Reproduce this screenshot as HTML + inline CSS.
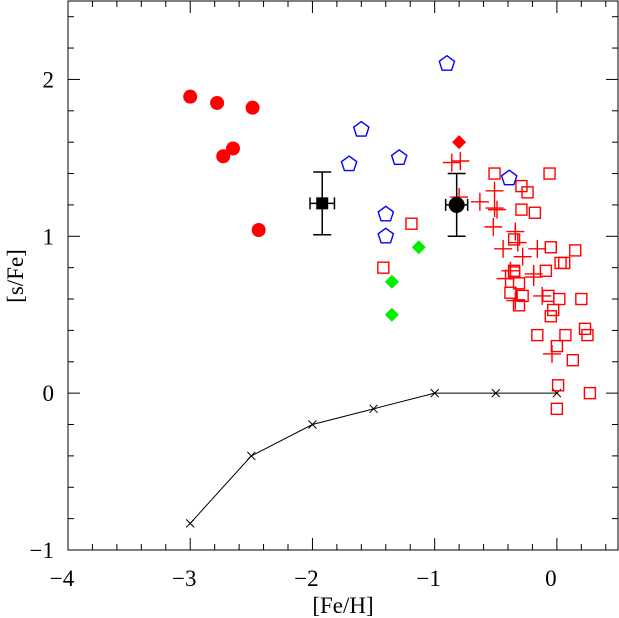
<!DOCTYPE html>
<html><head><meta charset="utf-8"><style>
body{margin:0;background:#fff}
svg{display:block}
text{font-family:"Liberation Serif",serif;font-size:23px;fill:#000}
</style></head><body>
<svg id="chart" width="619" height="618" viewBox="0 0 619 618" xmlns="http://www.w3.org/2000/svg"></svg>
<script>
const xTicks=[-4,-3,-2,-1,0];
const yTicks=[-1,0,1,2];
const redCircles=[[-3.0,1.89],[-2.78,1.85],[-2.73,1.51],[-2.65,1.56],[-2.49,1.82],[-2.44,1.04]];
const blueDiamondsX=[-0.9,-1.6,-1.7,-1.29,-1.4,-1.4,-0.39];
const bluePentY=[2.1,1.68,1.46,1.5,1.14,1.0,1.37];
const greenDiamonds=[[-1.13,0.93],[-1.35,0.71],[-1.35,0.5]];
const redDiamond=[[-0.8,1.6]];
const redSquares=[[-1.42,0.8],[-1.19,1.08],[-0.51,1.40],[-0.06,1.40],[-0.29,1.32],[-0.24,1.28],[-0.29,1.17],[-0.18,1.15],[-0.35,0.98],[-0.05,0.93],[0.15,0.91],[-0.35,0.78],[0.03,0.83],[0.06,0.83],[-0.09,0.78],[-0.35,0.77],[-0.31,0.70],[-0.38,0.64],[-0.28,0.62],[-0.07,0.62],[0.02,0.60],[0.20,0.60],[-0.31,0.56],[-0.03,0.53],[-0.05,0.49],[-0.16,0.37],[0.07,0.37],[0.23,0.41],[0.25,0.37],[0.00,0.30],[0.13,0.21],[0.01,0.05],[0.27,0.0],[0.00,-0.10]];
const redPlus=[[-0.86,1.47],[-0.79,1.48],[-0.8,1.25],[-0.51,1.29],[-0.63,1.22],[-0.51,1.18],[-0.49,1.17],[-0.52,1.06],[-0.34,1.03],[-0.32,0.96],[-0.44,0.92],[-0.16,0.92],[-0.28,0.87],[-0.38,0.78],[-0.19,0.76],[-0.42,0.73],[-0.19,0.74],[-0.12,0.62],[-0.34,0.59],[-0.04,0.25]];
const blackSquare=[[-1.92,1.21,0.1,0.2]];
const blackCircle=[[-0.82,1.2,0.09,0.2]];
const lineX=[-3,-2.5,-2,-1.5,-1,-0.5,0];
const lineY=[-0.83,-0.4,-0.2,-0.1,0,0,0];

const L=68,R=618,T=1,B=550,x0=-4,x1=0.5,y0=-1,y1=2.5;
const sx=v=>L+(v-x0)/(x1-x0)*(R-L);
const sy=v=>B-(v-y0)/(y1-y0)*(B-T);
const svg=document.getElementById('chart');
const NS='http://www.w3.org/2000/svg';
function mk(tag,attrs,name){const e=document.createElementNS(NS,tag);for(const k in attrs)e.setAttribute(k,attrs[k]);


svg.appendChild(e);return e;}
mk('rect',{x:L,y:T,width:R-L,height:B-T,fill:'none',stroke:'#000','stroke-width':1},'plot-frame');
for(let i=0;i<=22;i++){const v=-4+i*0.2;if(v>0.5001)break;const X=sx(v);const major=Math.abs(v-Math.round(v))<1e-6;const len=major?12:6;
mk('line',{x1:X,y1:B,x2:X,y2:B-len,stroke:'#000'},'x-tick');
mk('line',{x1:X,y1:T,x2:X,y2:T+len,stroke:'#000'},'x-tick-top');}
for(let i=0;i<=17;i++){const v=-1+i*0.2;if(v>2.5001)break;const Y=sy(v);const major=Math.abs(v-Math.round(v))<1e-6;const len=major?12:6;
mk('line',{x1:L,y1:Y,x2:L+len,y2:Y,stroke:'#000'},'y-tick');
mk('line',{x1:R,y1:Y,x2:R-len,y2:Y,stroke:'#000'},'y-tick-right');}
xTicks.forEach(v=>{const t=mk('text',{x:sx(v)-6,y:586,'text-anchor':'middle'},'x-tick-label');t.textContent=(v<0?'\u2212':'')+Math.abs(v);});
yTicks.forEach(v=>{const t=mk('text',{x:54,y:sy(v)+8,'text-anchor':'end'},'y-tick-label');t.textContent=(v<0?'\u2212':'')+Math.abs(v);});
let t=mk('text',{x:343,y:613,'text-anchor':'middle'},'x-axis-title');t.textContent='[Fe/H]';
t=mk('text',{x:0,y:0,'text-anchor':'middle',transform:'translate(23,276) rotate(-90)'},'y-axis-title');t.textContent='[s/Fe]';
mk('polyline',{points:lineX.map((x,i)=>sx(x)+','+sy(lineY[i])).join(' '),fill:'none',stroke:'#000','stroke-width':1},'model-line');
lineX.forEach((x,i)=>{const X=sx(x),Y=sy(lineY[i]);mk('path',{d:`M${X-4},${Y-4}L${X+4},${Y+4}M${X-4},${Y+4}L${X+4},${Y-4}`,stroke:'#000'},'model-point');});
redSquares.forEach(p=>{mk('rect',{x:sx(p[0])-5.5,y:sy(p[1])-5.5,width:11,height:11,fill:'none',stroke:'#f00','stroke-width':1.4},'red-square');});
redPlus.forEach(p=>{const X=sx(p[0]),Y=sy(p[1]);mk('path',{d:`M${X-9},${Y}L${X+9},${Y}M${X},${Y-9}L${X},${Y+9}`,stroke:'#f00','stroke-width':1.4},'red-plus');});
redCircles.forEach(p=>mk('circle',{cx:sx(p[0]),cy:sy(p[1]),r:7,fill:'#f00'},'red-circle'));
blueDiamondsX.forEach((x,i)=>{const X=sx(x),Y=sy(bluePentY[i]);const pts=[];for(let k=0;k<5;k++){const a=-Math.PI/2+k*2*Math.PI/5;pts.push((X+8*Math.cos(a)).toFixed(1)+','+(Y+8*Math.sin(a)).toFixed(1));}
mk('polygon',{points:pts.join(' '),fill:'none',stroke:'#00f','stroke-width':1.4},'blue-pentagon');});
function diamond(p,c,n){const X=sx(p[0]),Y=sy(p[1]);mk('polygon',{points:`${X},${Y-7} ${X+7},${Y} ${X},${Y+7} ${X-7},${Y}`,fill:c},n);}
greenDiamonds.forEach(p=>diamond(p,'#0e0','green-diamond'));
redDiamond.forEach(p=>diamond(p,'#f00','red-diamond'));
function errbar(p,n){const X=sx(p[0]),Y=sy(p[1]);const xa=sx(p[0]-p[2]),xb=sx(p[0]+p[2]),ya=sy(p[1]+p[3]),yb=sy(p[1]-p[3]);
mk('path',{d:`M${xa},${Y}L${xb},${Y}M${xa},${Y-6}L${xa},${Y+6}M${xb},${Y-6}L${xb},${Y+6}M${X},${ya}L${X},${yb}M${X-9},${ya}L${X+9},${ya}M${X-9},${yb}L${X+9},${yb}`,stroke:'#000','stroke-width':1.5,fill:'none'},n+'-errorbar');}
blackSquare.forEach(p=>{errbar(p,'black-square');mk('rect',{x:sx(p[0])-6,y:sy(p[1])-6,width:12,height:12,fill:'#000'},'black-square');});
blackCircle.forEach(p=>{errbar(p,'black-circle');mk('circle',{cx:sx(p[0]),cy:sy(p[1]),r:8,fill:'#000'},'black-circle');});
</script>
</body></html>
